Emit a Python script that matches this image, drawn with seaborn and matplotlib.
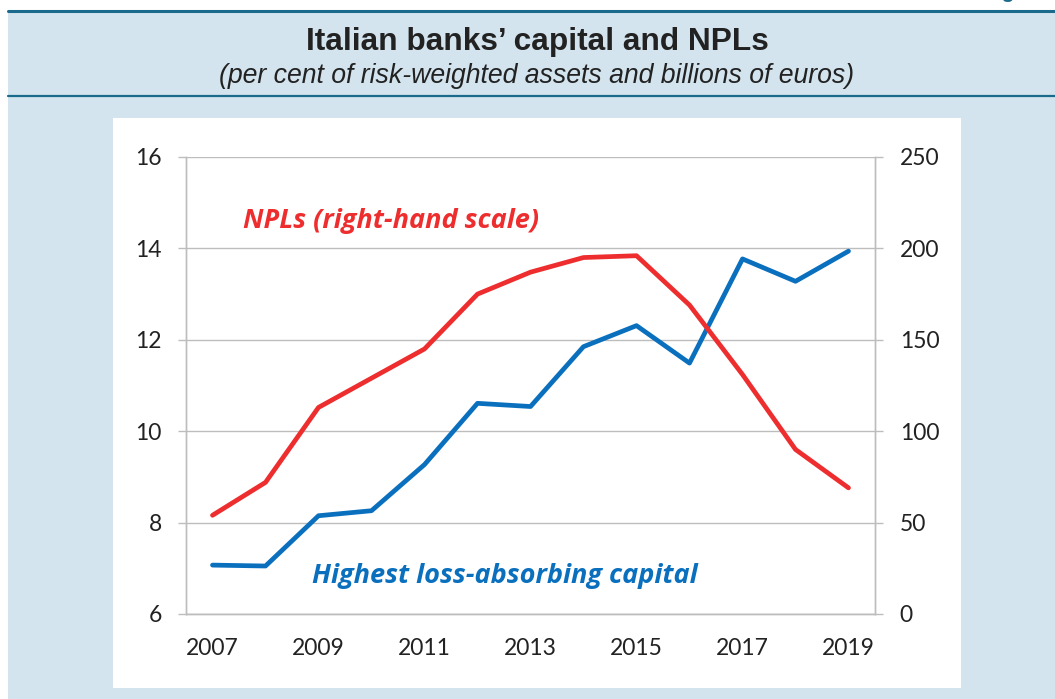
import numpy as np
import pandas as pd
import matplotlib
matplotlib.use("Agg")
import matplotlib.pyplot as plt
import seaborn as sns
from matplotlib import font_manager
from matplotlib.patches import Rectangle
from matplotlib.lines import Line2D

# data
years = list(range(2007, 2020))
capital = [7.07, 7.05, 8.15, 8.26, 9.27, 10.61, 10.54, 11.85, 12.31, 11.49, 13.77, 13.28, 13.94]
npls = [54, 72, 113, 129, 145, 175, 187, 195, 196, 169, 131, 90, 69]
left_ticks = [6, 8, 10, 12, 14, 16]
right_ticks = [0, 50, 100, 150, 200, 250]
year_labels = [2007, 2009, 2011, 2013, 2015, 2017, 2019]

df = pd.DataFrame({"year": years, "capital": capital, "npls": npls})

BG = "#d3e4ee"
TEAL = "#1a6a8c"
GRID = "#bdbdbd"
BLUE = "#0a70be"
RED = "#ee2e2e"
TXT = "#222222"

sns.set_style("white")
plt.rcParams["font.family"] = ["Lato", "DejaVu Sans"]

installed = {f.name for f in font_manager.fontManager.ttflist}
narrow = "Liberation Sans Narrow" if "Liberation Sans Narrow" in installed else "Liberation Sans"

W, H = 1055, 699
fig = plt.figure(figsize=(W / 100, H / 100), dpi=100)
fig.patch.set_facecolor("white")

# background panels
fig.patches.append(Rectangle((8 / W, 0), 1 - 8 / W, 1 - 11 / H, transform=fig.transFigure,
                             facecolor=BG, edgecolor="none", zorder=-3))
fig.patches.append(Rectangle((113 / W, 1 - 688 / H), 848 / W, 570 / H, transform=fig.transFigure,
                             facecolor="white", edgecolor="none", zorder=-2))
fig.lines.append(Line2D([8 / W, 1], [1 - 11 / H, 1 - 11 / H], transform=fig.transFigure,
                        color=TEAL, lw=2.2, zorder=-1))
fig.lines.append(Line2D([8 / W, 1], [1 - 96 / H, 1 - 96 / H], transform=fig.transFigure,
                        color=TEAL, lw=1.6, zorder=-1))

fig.text(1048 / W, 1 + 2 / H, "Figure", ha="right", va="baseline", color=TEAL,
         fontsize=15, fontweight="bold", family=["Liberation Sans", "DejaVu Sans"])
fig.text(537 / W, 1 - 42 / H, "Italian banks\u2019 capital and NPLs", ha="center", va="center",
         fontsize=22.8, fontweight="bold", color=TXT, family=[narrow, "DejaVu Sans"])
fig.text(537 / W, 1 - 76 / H, "(per cent of risk-weighted assets and billions of euros)",
         ha="center", va="center", fontsize=19.2, style="italic", color=TXT,
         family=[narrow, "DejaVu Sans"])

ax = fig.add_axes([186 / W, 1 - 614 / H, (875 - 186) / W, (614 - 157) / H])
ax.set_facecolor("none")
ax2 = ax.twinx()
ax2.set_facecolor("none")

sns.lineplot(data=df, x="year", y="capital", ax=ax, color=BLUE, lw=3.4)
sns.lineplot(data=df, x="year", y="npls", ax=ax2, color=RED, lw=3.4)

ax.set_xlim(2006.5, 2019.5)
ax.set_ylim(6, 16)
ax2.set_ylim(0, 250)
ax.set_yticks(left_ticks)
ax2.set_yticks(right_ticks)
ax.set_xticks(year_labels)
ax.set_xticks(np.arange(2006.5, 2020, 1), minor=True)
ax.set_xlabel("")
ax.set_ylabel("")
ax2.set_ylabel("")

ax.tick_params(axis="x", which="major", length=0, pad=17, labelsize=16.5, labelcolor=TXT)
ax.tick_params(axis="x", which="minor", length=5, width=1, color=GRID, direction="out")
ax.tick_params(axis="y", length=5.8, width=1, color=GRID, direction="out", pad=11.5,
               labelsize=16.5, labelcolor=TXT, left=True)
ax2.tick_params(axis="y", length=5.8, width=1, color=GRID, direction="out", pad=12,
                labelsize=16.5, labelcolor=TXT, right=True)

ax.set_axisbelow(True)
ax.grid(axis="y", color=GRID, lw=1)
ax.grid(axis="x", visible=False)
ax2.grid(False)

for a in (ax, ax2):
    a.spines["top"].set_visible(False)
    for s in ("left", "right", "bottom"):
        a.spines[s].set_color(GRID)
        a.spines[s].set_linewidth(1)

ann_font = ["Open Sans", "DejaVu Sans"]
ax.text(2007.58, 14.6, "NPLs (right-hand scale)", color=RED, fontsize=19.5,
        fontweight="bold", style="italic", va="center", ha="left", family=ann_font)
ax.text(2008.88, 6.84, "Highest loss-absorbing capital", color=BLUE, fontsize=19.5,
        fontweight="bold", style="italic", va="center", ha="left", family=ann_font)

fig.savefig("out.png", dpi=100, facecolor=fig.get_facecolor())
